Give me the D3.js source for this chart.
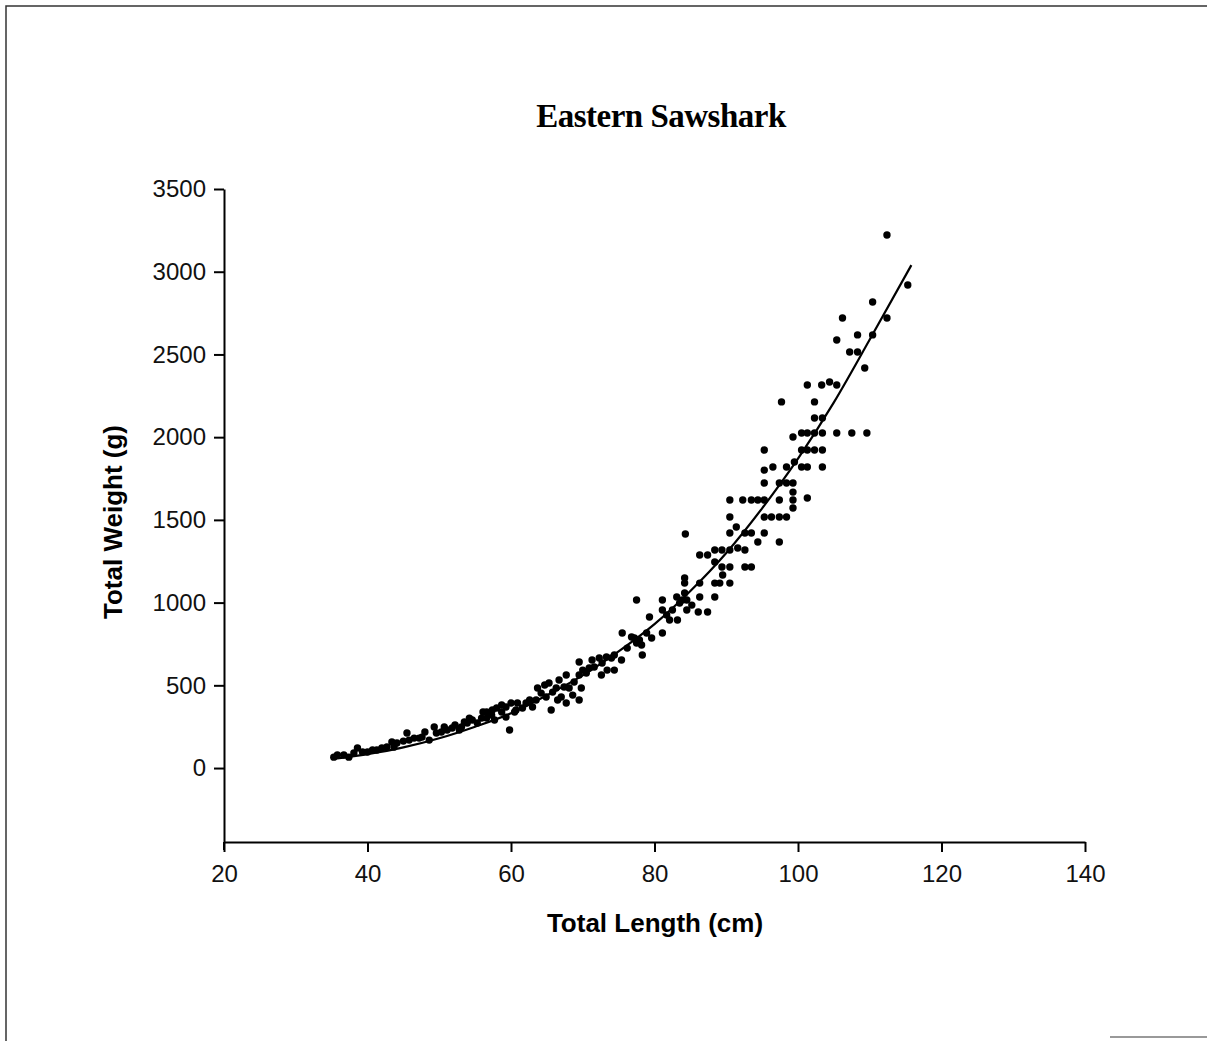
<!DOCTYPE html>
<html>
<head>
<meta charset="utf-8">
<script src="https://cdn.jsdelivr.net/npm/d3@7"></script>
<style>
  body { margin: 0; background: #fff; }
  .axis text { font-family: "Liberation Sans", Arial, sans-serif; font-size: 24px; fill: #111; }
</style>
</head>
<body>
<svg id="chart" width="1207" height="1041"></svg>
<script>
// observed fish: total length (cm) and total weight (g), paired by index
var lengthCm = [35.3, 35.8, 36.7, 37.4, 38.1, 38.6, 39.3, 40.0, 40.7, 41.3,
  42.0, 42.7, 43.4, 43.7, 44.1, 45.0, 45.5, 45.8, 46.5, 47.2,
  47.6, 48.0, 48.6, 49.3, 49.6, 50.3, 50.7, 51.1, 51.8, 52.2,
  52.8, 53.1, 53.5, 53.9, 54.2, 54.6, 55.3, 55.9, 56.1, 56.6,
  56.6, 57.3, 57.4, 57.7, 58.0, 58.7, 58.7, 59.3, 59.3, 59.8,
  60.0, 60.5, 60.7, 60.9, 61.6, 62.1, 62.6, 63.0, 63.5, 63.7,
  64.2, 64.7, 64.9, 65.3, 65.6, 65.8, 66.3, 66.5, 66.7, 67.0,
  67.4, 67.7, 67.7, 68.1, 68.6, 68.8, 69.5, 69.5, 69.5, 69.8,
  70.0, 70.5, 70.9, 71.3, 71.6, 72.3, 72.6, 72.7, 73.3, 73.4,
  74.0, 74.4, 74.4, 75.4, 75.5, 76.2, 76.8, 77.2, 77.5, 77.5,
  77.9, 78.2, 78.3, 78.9, 79.3, 79.6, 81.1, 81.1, 81.1, 81.7,
  82.1, 82.5, 83.1, 83.2, 83.5, 83.9, 84.2, 84.2, 84.2, 84.3,
  84.5, 84.5, 85.2, 86.1, 86.3, 86.3, 87.4, 86.3, 87.4, 88.4,
  88.4, 88.4, 88.4, 89.1, 90.5, 89.5, 89.4, 90.5, 89.4, 90.5,
  91.6, 92.6, 92.6, 93.5, 90.5, 91.4, 92.6, 93.5, 94.4, 95.3,
  97.4, 90.5, 90.5, 92.3, 93.5, 94.4, 95.3, 95.3, 96.3, 97.4,
  98.4, 97.4, 99.3, 101.3, 95.3, 97.4, 98.4, 99.3, 99.3, 99.3,
  95.3, 96.5, 98.4, 99.5, 100.5, 101.3, 103.4, 95.3, 100.5, 101.3,
  102.3, 103.4, 99.3, 100.5, 101.3, 102.3, 103.4, 105.4, 107.5, 109.6,
  102.3, 103.4, 102.3, 97.7, 101.3, 103.3, 104.4, 105.4, 107.2, 108.3,
  109.3, 105.4, 106.2, 108.3, 110.4, 110.4, 112.4, 112.4, 115.3];

var weightG = [66, 79, 79, 66, 91, 121, 97, 97, 109, 109,
  121, 127, 157, 127, 151, 163, 212, 169, 181, 181,
  187, 218, 169, 248, 212, 218, 248, 230, 242, 260,
  230, 248, 278, 272, 302, 290, 272, 302, 339, 339,
  302, 320, 351, 290, 363, 381, 339, 369, 308, 230,
  393, 339, 351, 393, 363, 393, 411, 369, 411, 484,
  453, 502, 429, 514, 351, 459, 484, 411, 532, 429,
  490, 562, 393, 484, 441, 520, 641, 562, 411, 484,
  592, 574, 605, 653, 611, 665, 562, 635, 671, 592,
  665, 683, 592, 653, 816, 725, 792, 786, 1016, 756,
  774, 744, 683, 816, 913, 786, 1016, 816, 955, 925,
  895, 955, 1034, 895, 997, 1016, 1149, 1118, 1058, 1415,
  1016, 955, 985, 943, 1034, 1118, 943, 1288, 1288, 1034,
  1118, 1245, 1318, 1118, 1118, 1167, 1215, 1215, 1318, 1318,
  1330, 1318, 1215, 1215, 1421, 1457, 1421, 1421, 1366, 1421,
  1366, 1517, 1620, 1620, 1620, 1620, 1620, 1517, 1517, 1517,
  1517, 1620, 1620, 1632, 1723, 1723, 1723, 1723, 1668, 1572,
  1801, 1820, 1820, 1850, 1820, 1820, 1820, 1922, 1922, 1922,
  1922, 1922, 2001, 2025, 2025, 2025, 2025, 2025, 2025, 2025,
  2116, 2116, 2213, 2213, 2315, 2315, 2333, 2315, 2515, 2515,
  2418, 2587, 2720, 2618, 2618, 2817, 2720, 3222, 2920];

// fitted length-weight curve
var fitLength = [35.5, 40, 45, 50, 55, 60, 65, 70, 75, 80, 85, 90, 95, 100, 105, 110, 115.8];
var fitWeight = [56, 84, 125, 180, 250, 331, 440, 560, 705, 870, 1070, 1300, 1570, 1870, 2210, 2590, 3040];

var xTicks = [20, 40, 60, 80, 100, 120, 140];
var yTicks = [0, 500, 1000, 1500, 2000, 2500, 3000, 3500];

var svg = d3.select("#chart");

svg.append("rect").attr("width", 1207).attr("height", 1041).attr("fill", "#fff");

// scanned page frame
svg.append("path")
  .attr("d", "M6,1041V6H1207")
  .attr("fill", "none")
  .attr("stroke", "#333")
  .attr("stroke-width", 1.5);
svg.append("line")
  .attr("x1", 1110).attr("x2", 1207).attr("y1", 1037).attr("y2", 1037)
  .attr("stroke", "#777").attr("stroke-width", 1.5);

var x = d3.scaleLinear().domain([20, 140]).range([224, 1085]);
var y = d3.scaleLinear().domain([-447, 3500]).range([842, 189]);

var xAxis = svg.append("g")
  .attr("class", "axis")
  .attr("transform", "translate(0,842)")
  .call(d3.axisBottom(x).tickValues(xTicks).tickFormat(d3.format("d"))
    .tickSize(10).tickSizeOuter(0).tickPadding(13));

var yAxis = svg.append("g")
  .attr("class", "axis")
  .attr("transform", "translate(224,0)")
  .call(d3.axisLeft(y).tickValues(yTicks).tickFormat(d3.format("d"))
    .tickSize(10).tickSizeOuter(0).tickPadding(8));

svg.selectAll(".axis .domain").attr("stroke", "#000").attr("stroke-width", 2);
svg.selectAll(".axis .tick line").attr("stroke", "#000").attr("stroke-width", 2);

// y axis runs a little past the x axis
svg.append("line")
  .attr("x1", x(20)).attr("x2", x(20))
  .attr("y1", y(-447)).attr("y2", y(-447) + 8)
  .attr("stroke", "#000").attr("stroke-width", 2);

// points
svg.append("g")
  .selectAll("circle")
  .data(lengthCm)
  .enter().append("circle")
  .attr("cx", function(d) { return x(d); })
  .attr("cy", function(d, i) { return y(weightG[i]); })
  .attr("r", 3.7)
  .attr("fill", "#000");

// fitted curve
var line = d3.line()
  .x(function(d) { return x(d); })
  .y(function(d, i) { return y(fitWeight[i]); })
  .curve(d3.curveMonotoneX);

svg.append("path")
  .datum(fitLength)
  .attr("d", line)
  .attr("fill", "none")
  .attr("stroke", "#000")
  .attr("stroke-width", 2.2);

// titles
svg.append("text")
  .attr("x", 661)
  .attr("y", 127)
  .attr("text-anchor", "middle")
  .style("font-family", "'Liberation Serif', 'Times New Roman', serif")
  .style("font-weight", "bold")
  .style("font-size", "33px")
  .style("letter-spacing", "-0.5px")
  .text("Eastern Sawshark");

svg.append("text")
  .attr("x", 655)
  .attr("y", 932)
  .attr("text-anchor", "middle")
  .style("font-family", "'Liberation Sans', Arial, sans-serif")
  .style("font-weight", "bold")
  .style("font-size", "26px")
  .text("Total Length (cm)");

svg.append("text")
  .attr("transform", "translate(122,522)rotate(-90)")
  .attr("text-anchor", "middle")
  .style("font-family", "'Liberation Sans', Arial, sans-serif")
  .style("font-weight", "bold")
  .style("font-size", "26px")
  .text("Total Weight (g)");
</script>
</body>
</html>
